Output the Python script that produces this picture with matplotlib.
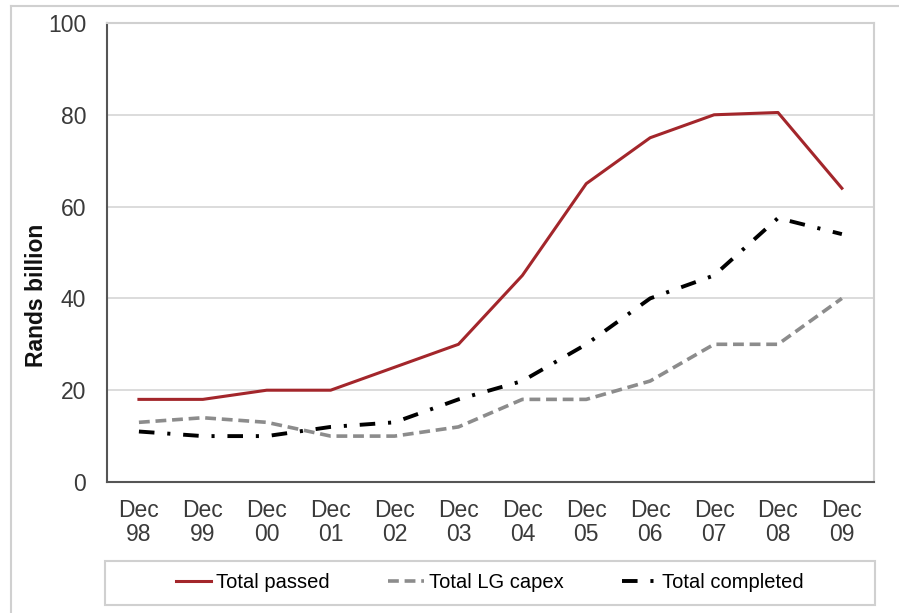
import matplotlib.pyplot as plt
from matplotlib.lines import Line2D
from matplotlib.patches import Rectangle

plt.rcParams['font.family'] = ['Liberation Sans', 'DejaVu Sans']

# Spending series, Rands billion
periods = ["Dec\n98", "Dec\n99", "Dec\n00", "Dec\n01", "Dec\n02", "Dec\n03",
           "Dec\n04", "Dec\n05", "Dec\n06", "Dec\n07", "Dec\n08", "Dec\n09"]
total_passed = [18, 18, 20, 20, 25, 30, 45, 65, 75, 80, 80.5, 64]
total_lg_capex = [13, 14, 13, 10, 10, 12, 18, 18, 22, 30, 30, 40]
total_completed = [11, 10, 10, 12, 13, 18, 22, 30, 40, 45, 57.5, 54]

fig = plt.figure(figsize=(8.99, 6.13), dpi=100)
ax = fig.add_axes([0.119, 0.2137, 0.853, 0.7488])

x = range(len(periods))
ax.plot(x, total_passed, color='#A3262B', lw=2.2, label="Total passed")
ax.plot(x, total_lg_capex, color='#8C8C8C', lw=2.6,
        linestyle=(0, (3, 1.6)), label="Total LG capex")
ax.plot(x, total_completed, color='black', lw=2.8,
        linestyle=(0, (4, 3.3, 0.8, 3.3)), label="Total completed")

ax.set_xlim(-0.5, len(periods) - 0.5)
ax.set_ylim(0, 100)
ax.set_yticks([0, 20, 40, 60, 80, 100])
ax.set_xticks(list(x))
ax.set_xticklabels(periods, linespacing=1.1)
ax.tick_params(axis='both', length=0, labelsize=16.5, labelcolor='#3A3A3A')
ax.tick_params(axis='y', pad=15)
ax.tick_params(axis='x', pad=12)
ax.set_ylabel("Rands billion", fontsize=16.5, fontweight='bold', color='#111111')
ax.yaxis.set_label_coords(-0.077, 0.407)

ax.grid(axis='y', color='#D9D9D9', lw=1.3)
ax.set_axisbelow(True)
for side in ['left', 'bottom']:
    ax.spines[side].set_color('#555555')
    ax.spines[side].set_linewidth(1.5)
for side in ['top', 'right']:
    ax.spines[side].set_color('#D0D0D0')
    ax.spines[side].set_linewidth(1.5)

# legend box under the axes
fig.patches.append(Rectangle((105 / 899, 1 - 605 / 613), 770 / 899, 44 / 613,
                             transform=fig.transFigure, fill=False,
                             edgecolor='#D0D0D0', lw=1.5))
fig.legend(loc='center', bbox_to_anchor=(490 / 899, 1 - 583 / 613), ncol=3,
           frameon=False, fontsize=14.5, handlelength=1.75, handletextpad=0.25,
           columnspacing=2.9)

# outer chart frame
fig.add_artist(Line2D([11 / 899, 1], [1 - 6 / 613, 1 - 6 / 613],
                      transform=fig.transFigure, color='#D0D0D0', lw=1.5))
fig.add_artist(Line2D([11 / 899, 11 / 899], [0, 1 - 6 / 613],
                      transform=fig.transFigure, color='#D0D0D0', lw=1.5))

fig.savefig("out.png", dpi=100)
